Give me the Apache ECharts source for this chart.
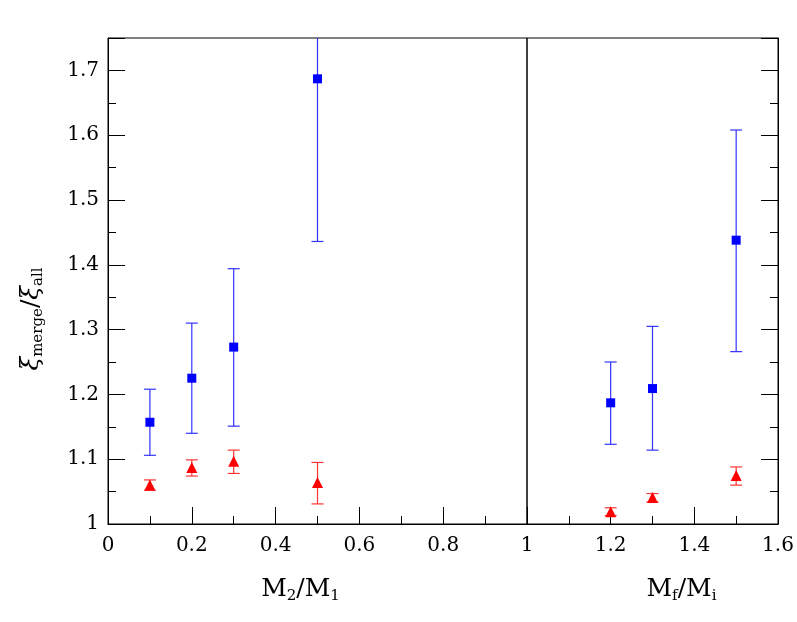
<!DOCTYPE html>
<html lang="en">
<head>
    <meta charset="UTF-8">
    <title>xi merge / xi all</title>
    <script src="https://cdn.jsdelivr.net/npm/echarts@6/dist/echarts.min.js"></script>
    <style>
        body { margin: 0; background: #fff; }
    </style>
</head>
<body>
    <div id="chart" style="width: 797px; height: 622px;"></div>

    <script>
        // left panel: mass ratio M2/M1
        var leftX = [0.1, 0.2, 0.3, 0.5];
        var leftBlue = [1.157, 1.225, 1.273, 1.687];
        var leftBlueLo = [1.106, 1.140, 1.151, 1.436];
        var leftBlueHi = [1.208, 1.310, 1.394, 1.940];
        var leftRed = [1.060, 1.087, 1.097, 1.064];
        var leftRedLo = [1.052, 1.074, 1.078, 1.031];
        var leftRedHi = [1.068, 1.099, 1.114, 1.095];

        // right panel: Mf/Mi
        var rightX = [1.2, 1.3, 1.5];
        var rightBlue = [1.187, 1.209, 1.438];
        var rightBlueLo = [1.123, 1.114, 1.266];
        var rightBlueHi = [1.250, 1.305, 1.608];
        var rightRed = [1.019, 1.041, 1.075];
        var rightRedLo = [1.013, 1.034, 1.060];
        var rightRedHi = [1.025, 1.047, 1.088];

        var font = 'DejaVu Serif';

        function pts(xs, ys) {
            return xs.map(function (x, i) { return [x, ys[i]]; });
        }
        function bars(xs, lo, hi) {
            return xs.map(function (x, i) { return [x, lo[i], hi[i]]; });
        }

        function errorBars(color) {
            return function (params, api) {
                var top = api.coord([api.value(0), api.value(2)]);
                var bot = api.coord([api.value(0), api.value(1)]);
                var w = 6;
                var style = { stroke: color, lineWidth: 1.2, fill: null };
                return {
                    type: 'group',
                    children: [
                        { type: 'line', shape: { x1: top[0], y1: top[1], x2: bot[0], y2: bot[1] }, style: style },
                        { type: 'line', shape: { x1: top[0] - w, y1: top[1], x2: top[0] + w, y2: top[1] }, style: style },
                        { type: 'line', shape: { x1: bot[0] - w, y1: bot[1], x2: bot[0] + w, y2: bot[1] }, style: style }
                    ]
                };
            };
        }

        function errSeries(idx, data, color) {
            return {
                type: 'custom',
                xAxisIndex: idx,
                yAxisIndex: idx,
                clip: true,
                renderItem: errorBars(color),
                data: data,
                z: 2
            };
        }

        function markSeries(idx, data, color, symbol, size) {
            return {
                type: 'scatter',
                xAxisIndex: idx,
                yAxisIndex: idx,
                symbol: symbol,
                symbolSize: size,
                itemStyle: { color: color, opacity: 1 },
                data: data,
                z: 3
            };
        }

        var tickCommon = {
            axisLine: { show: true, onZero: false, lineStyle: { color: '#000', width: 1 } },
            axisTick: { show: true, inside: true, length: 17, lineStyle: { color: '#000' } },
            minorTick: { show: true, splitNumber: 2, length: 8, lineStyle: { color: '#000' } },
            splitLine: { show: false },
            minorSplitLine: { show: false }
        };

        var sub = { fontFamily: font, fontSize: 15, verticalAlign: 'bottom', lineHeight: 12, color: '#000' };
        var base = { fontFamily: font, fontSize: 25, lineHeight: 30, color: '#000' };

        var chart = echarts.init(document.getElementById('chart'));

        chart.setOption({
            animation: false,
            backgroundColor: '#fff',
            grid: [
                { left: 108, top: 38, width: 419, height: 486, show: true, borderColor: '#000', borderWidth: 1 },
                { left: 527, top: 38, width: 251, height: 486, show: true, borderColor: '#000', borderWidth: 1 }
            ],
            xAxis: [
                Object.assign({}, tickCommon, {
                    type: 'value', gridIndex: 0, min: 0, max: 1, interval: 0.2,
                    axisLabel: { fontFamily: font, fontSize: 20, color: '#000', margin: 12 },
                    name: '{b|M}{s|2}{b|/M}{s|1}',
                    nameLocation: 'middle',
                    nameGap: 50,
                    nameTextStyle: { rich: { b: base, s: sub }, padding: [0, 34, 0, 0] }
                }),
                Object.assign({}, tickCommon, {
                    type: 'value', gridIndex: 1, min: 1, max: 1.6, interval: 0.2,
                    axisLabel: { fontFamily: font, fontSize: 20, color: '#000', margin: 12, showMinLabel: false },
                    name: '{b|M}{s|f}{b|/M}{s|i}',
                    nameLocation: 'middle',
                    nameGap: 50,
                    nameTextStyle: { rich: { b: base, s: sub }, padding: [0, 0, 0, 58] }
                })
            ],
            yAxis: [
                Object.assign({}, tickCommon, {
                    type: 'value', gridIndex: 0, min: 1, max: 1.75, interval: 0.1,
                    axisLabel: {
                        fontFamily: font, fontSize: 20, color: '#000', margin: 9,
                        formatter: function (v) {
                            if (Math.abs(v - 1.75) < 1e-6) return '';
                            return String(Math.round(v * 10) / 10);
                        }
                    },
                    name: '{x|ξ}{s|merge}{b|/}{x|ξ}{s|all}',
                    nameLocation: 'middle',
                    nameRotate: 90,
                    nameGap: 62,
                    nameTextStyle: {
                        rich: {
                            b: base, s: sub,
                            x: { fontFamily: font, fontSize: 25, lineHeight: 30, fontStyle: 'italic', color: '#000' }
                        },
                        padding: [0, 76, 0, 0]
                    }
                }),
                Object.assign({}, tickCommon, {
                    type: 'value', gridIndex: 1, min: 1, max: 1.75, interval: 0.1,
                    position: 'right',
                    axisLabel: { show: false }
                })
            ],
            series: [
                errSeries(0, bars(leftX, leftBlueLo, leftBlueHi), '#3333ff'),
                errSeries(0, bars(leftX, leftRedLo, leftRedHi), '#ff3333'),
                markSeries(0, pts(leftX, leftBlue), '#0000ff', 'rect', 9),
                markSeries(0, pts(leftX, leftRed), '#ff0000', 'triangle', 11),
                errSeries(1, bars(rightX, rightBlueLo, rightBlueHi), '#3333ff'),
                errSeries(1, bars(rightX, rightRedLo, rightRedHi), '#ff3333'),
                markSeries(1, pts(rightX, rightBlue), '#0000ff', 'rect', 9),
                markSeries(1, pts(rightX, rightRed), '#ff0000', 'triangle', 11)
            ]
        });
    </script>
</body>
</html>
